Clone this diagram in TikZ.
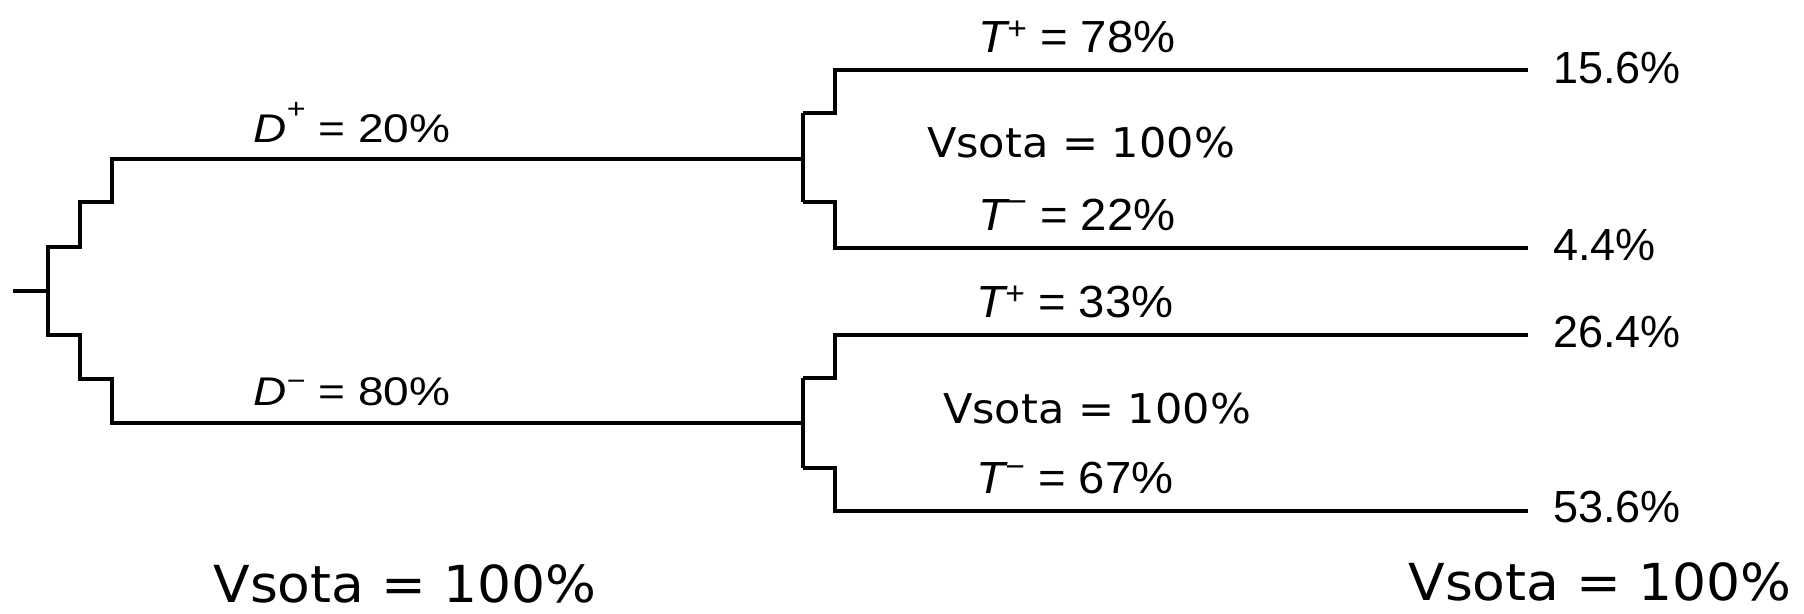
\documentclass[tikz,border=0pt]{standalone}
\usepackage{fontspec}
\setmainfont{Liberation Sans}
\newfontfamily\labD[FakeStretch=1.15]{Liberation Sans}
\newfontfamily\labT[FakeStretch=1.05]{Liberation Sans}
\newfontfamily\labR{Liberation Sans}
\newfontfamily\vsfont[FakeStretch=1.05]{DejaVu Sans}
% raised sign: #1 raise, #2 size, #3 sign
\newcommand\rsign[3]{\raisebox{#1}{\fontsize{#2}{#2}\selectfont #3}}
% probability label: italic letter, raised sign, value
\newcommand\plabel[3]{{\itshape #1}#2 = #3}
\tikzset{
  branch/.style={line width=3.2pt, line join=miter, line cap=butt},
  dlabel/.style={anchor=base, inner sep=0pt, font=\labD\fontsize{40}{48}\selectfont},
  tlabel/.style={anchor=base, inner sep=0pt, font=\labT\fontsize{45}{52}\selectfont},
  result/.style={anchor=base west, inner sep=0pt, font=\labR\fontsize{45}{52}\selectfont},
  sumsmall/.style={anchor=base, inner sep=0pt, font=\vsfont\fontsize{41}{48}\selectfont},
  sumbig/.style={anchor=base, inner sep=0pt, font=\vsfont\fontsize{51}{58}\selectfont},
}
\begin{document}
\begin{tikzpicture}[x=1pt,y=-1pt]
\useasboundingbox (0,0) rectangle (1804,613);

% first-level decision points
\coordinate (root) at (13,291);
\coordinate (r0) at (48,291);
\coordinate (dp) at (803,159);
\coordinate (dm) at (803,423);

% second-level branch ends
\coordinate (tpA) at (1528,70);
\coordinate (tmA) at (1528,248);
\coordinate (tpB) at (1528,335);
\coordinate (tmB) at (1528,511);

% root stub and the stepped first split
\draw[branch] (root) -- (r0);
\draw[branch] (dp) -- (112,159) -- (112,202) -- (80,202) -- (80,247)
  -- (48,247) -- (48,335) -- (80,335) -- (80,379) -- (112,379)
  -- (112,423) -- (dm);

% split after D+
\draw[branch] (803,113) -- (803,202);
\draw[branch] (803,113) -- (835,113) -- (835,70) -- (tpA);
\draw[branch] (803,202) -- (835,202) -- (835,248) -- (tmA);

% split after D-
\draw[branch] (803,378) -- (803,468);
\draw[branch] (803,378) -- (835,378) -- (835,335) -- (tpB);
\draw[branch] (803,468) -- (835,468) -- (835,511) -- (tmB);

% branch labels
\node[dlabel] (ldp) at (352,142) {\plabel{D}{\rsign{24pt}{28}{+}}{20\%}};
\node[dlabel] (ldm) at (352,405) {\plabel{D}{\rsign{15pt}{28}{−}}{80\%}};
\node[tlabel] (ltpA) at (1077,52) {\plabel{T}{\rsign{13pt}{32}{+}}{78\%}};
\node[tlabel] (ltmA) at (1077,230) {\plabel{T}{\rsign{18pt}{32}{−}}{22\%}};
\node[tlabel] (ltpB) at (1075,317) {\plabel{T}{\rsign{13pt}{32}{+}}{33\%}};
\node[tlabel] (ltmB) at (1075,493) {\plabel{T}{\rsign{16pt}{32}{−}}{67\%}};

% joint probabilities
\node[result] (pA1) at (1553,83) {15.6\%};
\node[result] (pA2) at (1553,260) {4.4\%};
\node[result] (pB1) at (1553,347) {26.4\%};
\node[result] (pB2) at (1553,522) {53.6\%};

% sums
\node[sumsmall] (sA) at (1081,157) {Vsota = 100\%};
\node[sumsmall] (sB) at (1097,423) {Vsota = 100\%};
\node[sumbig] (sD) at (405,602) {Vsota = 100\%};
\node[sumbig] (sT) at (1600,600) {Vsota = 100\%};
\end{tikzpicture}
\end{document}
